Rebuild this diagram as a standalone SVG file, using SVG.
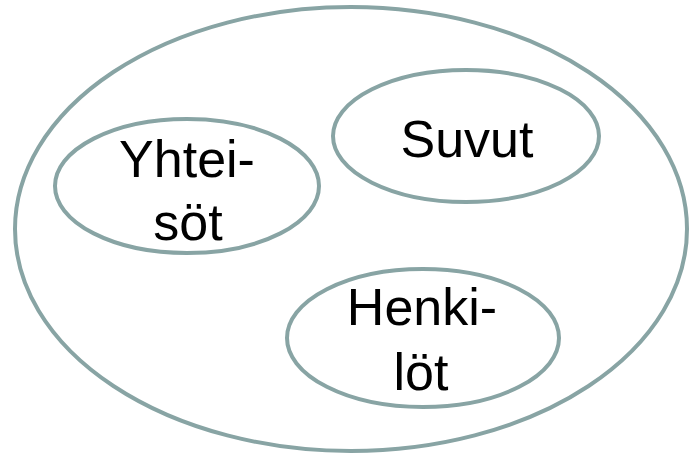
<svg xmlns="http://www.w3.org/2000/svg" width="690" height="456" viewBox="0 0 690 456">
<style>
.e{fill:none;stroke:#88a4a4;stroke-width:4}
.t{font-family:"Liberation Sans",Arial,sans-serif;font-size:52px;fill:#000;text-anchor:middle}
</style>
<rect width="690" height="456" fill="#fff"/>
<g id="outer"><ellipse class="e" cx="351" cy="229" rx="336" ry="222"/></g>
<g id="yhteisot"><ellipse class="e" cx="187" cy="186" rx="132" ry="67"/>
<text class="t" x="187" y="177">Yhtei-</text><text class="t" x="188" y="240">söt</text></g>
<g id="suvut"><ellipse class="e" cx="466" cy="136" rx="133" ry="66"/>
<text class="t" x="467" y="157">Suvut</text></g>
<g id="henkilot"><ellipse class="e" cx="423" cy="338" rx="136" ry="69"/>
<text class="t" x="422" y="325">Henki-</text><text class="t" x="421" y="390">löt</text></g>
<g id="connectors"/>
</svg>
